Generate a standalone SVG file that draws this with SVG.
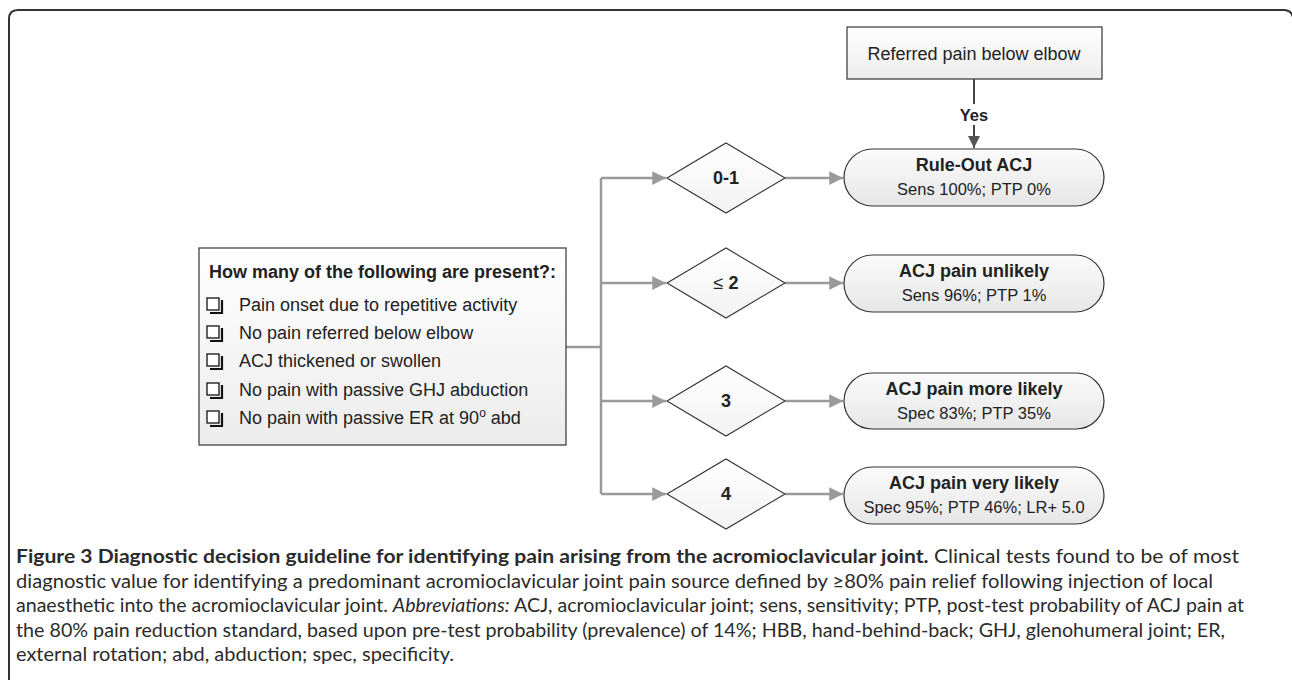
<svg xmlns="http://www.w3.org/2000/svg" width="1292" height="680" viewBox="0 0 1292 680">
<defs>
<linearGradient id="gBox" x1="0" y1="0" x2="0" y2="1"><stop offset="0" stop-color="#ffffff"/><stop offset="1" stop-color="#ececec"/></linearGradient>
<linearGradient id="gPill" x1="0" y1="0" x2="0" y2="1"><stop offset="0" stop-color="#fbfbfb"/><stop offset="1" stop-color="#e6e6e6"/></linearGradient>
<linearGradient id="gDia" x1="0" y1="0" x2="0" y2="1"><stop offset="0" stop-color="#ffffff"/><stop offset="1" stop-color="#f2f2f2"/></linearGradient>
<marker id="ag" viewBox="0 0 10 10" refX="10" refY="5" markerWidth="5.5" markerHeight="5.5" orient="auto" markerUnits="strokeWidth"><path d="M0,0 L10,5 L0,10 z" fill="#9a9a9a"/></marker>
<marker id="ad" viewBox="0 0 10 10" refX="10" refY="5" markerWidth="6" markerHeight="6" orient="auto" markerUnits="strokeWidth"><path d="M0,0 L10,5 L0,10 z" fill="#555"/></marker>
</defs>
<style>
.t{font-family:"Liberation Sans",Arial,sans-serif;fill:#222;}
.b{font-weight:bold;}
.h18{font-size:18px;}
.s16{font-size:16.5px;}
.mid{text-anchor:middle;}
.box{fill:url(#gBox);stroke:#444;stroke-width:1.3;}
.pill{fill:url(#gPill);stroke:#333;stroke-width:1.2;}
.dia{fill:url(#gDia);stroke:#333;stroke-width:1.1;}
.cg{fill:none;stroke:#9a9a9a;stroke-width:2.5;}
.cd{fill:none;stroke:#444;stroke-width:2;}
.cap{font-family:Lato,"Open Sans",sans-serif;font-size:19.5px;fill:#2b2b2b;}
.chk{fill:#fff;stroke:#111;stroke-width:1.3;}
.chs{fill:none;stroke:#111;stroke-width:2.2;}
</style>

<path d="M9,680 V19 Q9,10 18,10 H1284 Q1291,10 1293,17" fill="none" stroke="#333" stroke-width="2"/>

<g id="connectors">
<path class="cg" d="M566,347 H601"/>
<path class="cg" d="M601,178 V494"/>
<path class="cg" d="M601,178 H666" marker-end="url(#ag)"/>
<path class="cg" d="M601,283 H666" marker-end="url(#ag)"/>
<path class="cg" d="M601,401 H666" marker-end="url(#ag)"/>
<path class="cg" d="M601,494 H666" marker-end="url(#ag)"/>
<path class="cg" d="M785,178 H843" marker-end="url(#ag)"/>
<path class="cg" d="M785,283 H843" marker-end="url(#ag)"/>
<path class="cg" d="M785,401 H843" marker-end="url(#ag)"/>
<path class="cg" d="M785,494 H843" marker-end="url(#ag)"/>
<path class="cd" d="M974,79 V104"/>
<path class="cd" d="M974,125 V148" marker-end="url(#ad)"/>
<text class="t b mid" x="974" y="121" font-size="16.5">Yes</text>
</g>

<g id="criteria">
<rect class="box" x="199" y="248" width="367" height="197"/>
<text class="t b h18" x="209" y="278">How many of the following are present?:</text>
<g>
<path class="chs" d="M210,313 H222 V300"/><rect class="chk" x="207" y="298" width="12" height="12"/>
<path class="chs" d="M210,341 H222 V328"/><rect class="chk" x="207" y="326" width="12" height="12"/>
<path class="chs" d="M210,369 H222 V356"/><rect class="chk" x="207" y="354" width="12" height="12"/>
<path class="chs" d="M210,398 H222 V385"/><rect class="chk" x="207" y="383" width="12" height="12"/>
<path class="chs" d="M210,426 H222 V413"/><rect class="chk" x="207" y="411" width="12" height="12"/>
</g>
<text class="t h18" x="239" y="311">Pain onset due to repetitive activity</text>
<text class="t h18" x="239" y="339">No pain referred below elbow</text>
<text class="t h18" x="239" y="367">ACJ thickened or swollen</text>
<text class="t h18" x="239" y="396">No pain with passive GHJ abduction</text>
<text class="t h18" x="239" y="424">No pain with passive ER at 90<tspan font-size="12" dy="-7">o</tspan><tspan dy="7"> abd</tspan></text>
</g>

<g id="referred">
<rect class="box" x="847" y="27" width="255" height="52"/>
<text class="t h18 mid" x="974" y="60">Referred pain below elbow</text>
</g>

<g id="d01"><path class="dia" d="M667,178 L726,143 L785,178 L726,213 Z"/><text class="t b h18 mid" x="726" y="184">0-1</text></g>
<g id="d2"><path class="dia" d="M667,283 L726,248 L785,283 L726,318 Z"/><text class="t h18 mid" x="726" y="289">≤ <tspan class="b">2</tspan></text></g>
<g id="d3"><path class="dia" d="M667,401 L726,366 L785,401 L726,436 Z"/><text class="t b h18 mid" x="726" y="407">3</text></g>
<g id="d4"><path class="dia" d="M667,494 L726,459 L785,494 L726,529 Z"/><text class="t b h18 mid" x="726" y="500">4</text></g>

<g id="p01"><rect class="pill" x="844" y="149" width="260" height="57" rx="28.5"/><text class="t b h18 mid" x="974" y="171">Rule-Out ACJ</text><text class="t s16 mid" x="974" y="195">Sens 100%; PTP 0%</text></g>
<g id="p2"><rect class="pill" x="844" y="255" width="260" height="57" rx="28.5"/><text class="t b h18 mid" x="974" y="277">ACJ pain unlikely</text><text class="t s16 mid" x="974" y="301">Sens 96%; PTP 1%</text></g>
<g id="p3"><rect class="pill" x="844" y="373" width="260" height="56" rx="28"/><text class="t b h18 mid" x="974" y="395">ACJ pain more likely</text><text class="t s16 mid" x="974" y="419">Spec 83%; PTP 35%</text></g>
<g id="p4"><rect class="pill" x="844" y="467" width="260" height="57" rx="28.5"/><text class="t b h18 mid" x="974" y="489">ACJ pain very likely</text><text class="t s16 mid" x="974" y="513">Spec 95%; PTP 46%; LR+ 5.0</text></g>

<g id="caption">
<text class="cap" x="16" y="563" textLength="1223" lengthAdjust="spacingAndGlyphs"><tspan font-weight="bold">Figure 3 Diagnostic decision guideline for identifying pain arising from the acromioclavicular joint.</tspan> Clinical tests found to be of most</text>
<text class="cap" x="16" y="588" textLength="1197" lengthAdjust="spacingAndGlyphs">diagnostic value for identifying a predominant acromioclavicular joint pain source defined by ≥80% pain relief following injection of local</text>
<text class="cap" x="16" y="612" textLength="1228" lengthAdjust="spacingAndGlyphs">anaesthetic into the acromioclavicular joint. <tspan font-style="italic">Abbreviations:</tspan> ACJ, acromioclavicular joint; sens, sensitivity; PTP, post-test probability of ACJ pain at</text>
<text class="cap" x="16" y="637" textLength="1209" lengthAdjust="spacingAndGlyphs">the 80% pain reduction standard, based upon pre-test probability (prevalence) of 14%; HBB, hand-behind-back; GHJ, glenohumeral joint; ER,</text>
<text class="cap" x="16" y="661" textLength="438" lengthAdjust="spacingAndGlyphs">external rotation; abd, abduction; spec, specificity.</text>
</g>
</svg>
